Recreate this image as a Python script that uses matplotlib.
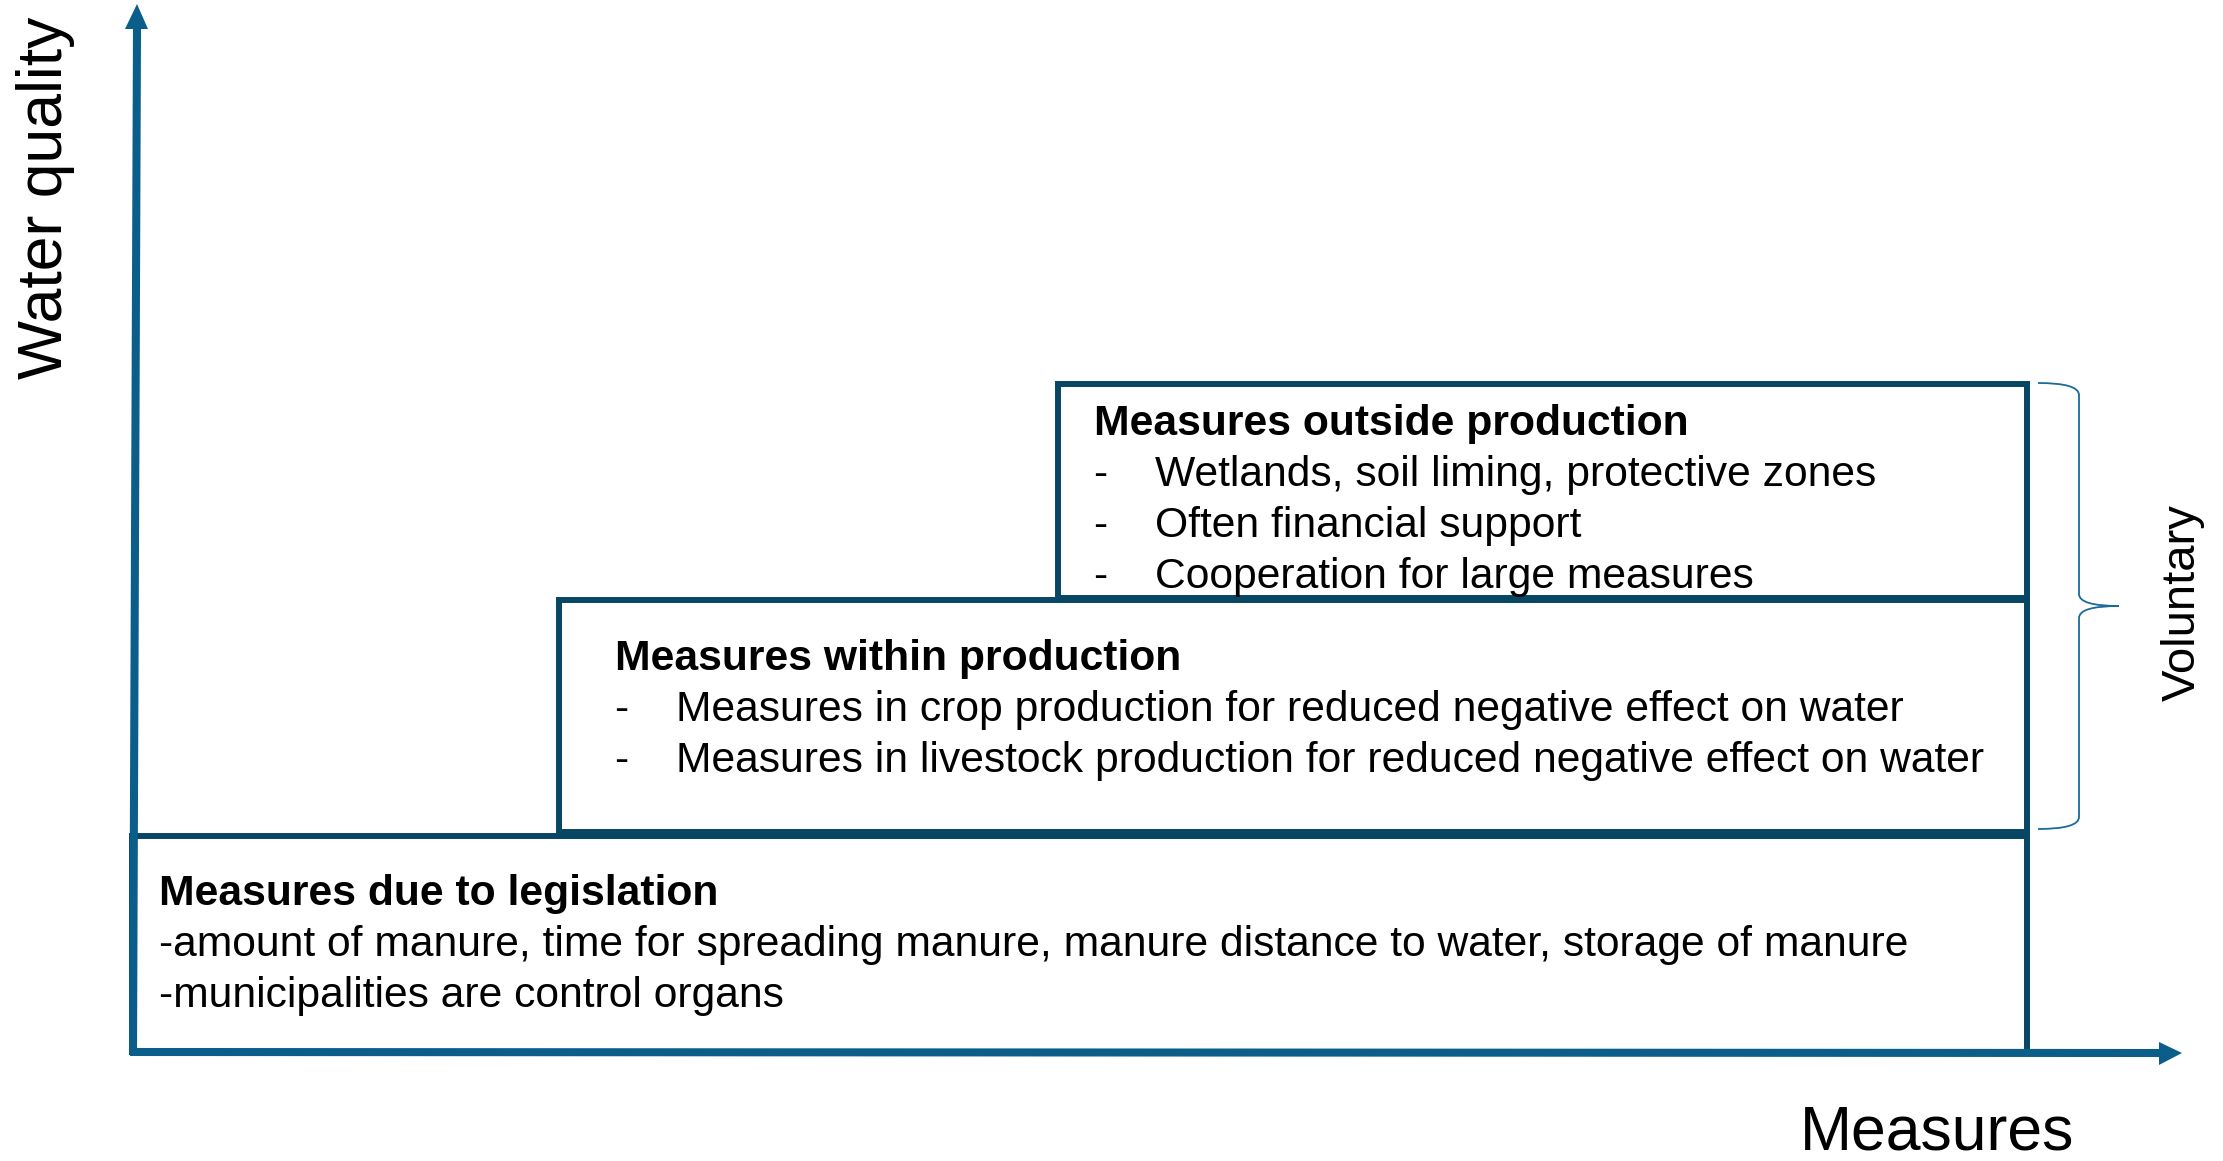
import matplotlib.pyplot as plt
from matplotlib.patches import Rectangle, Polygon, PathPatch
from matplotlib.path import Path

plt.rcParams['font.family'] = ['Liberation Sans', 'DejaVu Sans']

W, H = 2223, 1161
AXIS_COLOR = '#0B5E8A'
BOX_COLOR = '#084764'
BRACE_COLOR = '#1A6A9A'

# steps of the staircase: (left, top, right, bottom) in pixel units
box_names = ['legislation', 'within', 'outside']
box_left = [132, 559, 1058]
box_top = [836, 600, 384]
box_right = [2027, 2027, 2027]
box_bottom = [1052, 832, 598]

titles = ['Measures due to legislation',
          'Measures within production',
          'Measures outside production']
bullets = [
    ['-amount of manure, time for spreading manure, manure distance to water, storage of manure',
     '-municipalities are control organs'],
    ['Measures in crop production for reduced negative effect on water',
     'Measures in livestock production for reduced negative effect on water'],
    ['Wetlands, soil liming, protective zones',
     'Often financial support',
     'Cooperation for large measures'],
]
title_x = [159, 615, 1094]
title_y = [894, 659, 424]
dash_x = [None, 614, 1093]
text_x = [159, 676, 1155]
line_step = 51
FS = 30.68

fig = plt.figure(figsize=(W / 100, H / 100), dpi=100)
ax = fig.add_axes([0, 0, 1, 1])
ax.set_xlim(0, W)
ax.set_ylim(H, 0)
ax.axis('off')

# boxes
for i in range(len(box_names)):
    r = Rectangle((box_left[i], box_top[i]), box_right[i] - box_left[i],
                  box_bottom[i] - box_top[i], facecolor='white',
                  edgecolor=BOX_COLOR, linewidth=4.3, zorder=2)
    ax.add_patch(r)

# axes arrows
ax.plot([133, 137], [1053, 28], color=AXIS_COLOR, lw=5.8, solid_capstyle='butt', zorder=3)
ax.add_patch(Polygon([[125, 29], [148, 29], [137, 4]], closed=True,
                     facecolor=AXIS_COLOR, edgecolor='none', zorder=3))
ax.plot([130, 2160], [1052, 1053], color=AXIS_COLOR, lw=5.8, solid_capstyle='butt', zorder=3)
ax.add_patch(Polygon([[2159, 1042], [2159, 1065], [2182, 1053]], closed=True,
                     facecolor=AXIS_COLOR, edgecolor='none', zorder=3))

# text in boxes
for i in range(len(titles)):
    ax.text(title_x[i], title_y[i], titles[i], fontsize=FS, fontweight='bold',
            ha='left', va='center', zorder=4)
    for j, b in enumerate(bullets[i]):
        y = title_y[i] + (j + 1) * line_step
        if dash_x[i] is not None:
            ax.text(dash_x[i], y, '-', fontsize=FS, ha='left', va='center', zorder=4)
        ax.text(text_x[i], y, b, fontsize=FS, ha='left', va='center', zorder=4)

# axis labels
ax.text(46, 198, 'Water quality', fontsize=45, rotation=90, ha='center', va='center')
ax.text(2074, 1149, 'Measures', fontsize=45, ha='right', va='baseline')
ax.text(2183, 603, 'Voluntary', fontsize=34, rotation=90, ha='center', va='center')

# curly brace
bx0, bx1, btip = 2038, 2079, 2119
by0, bmid, by1 = 383, 606, 829
verts = [(bx0, by0), (bx1, by0), (bx1, by0 + 12),
         (bx1, bmid - 12),
         (bx1, bmid), (btip, bmid),
         (bx1, bmid), (bx1, bmid + 12),
         (bx1, by1 - 12),
         (bx1, by1), (bx0, by1)]
codes = [Path.MOVETO, Path.CURVE3, Path.CURVE3,
         Path.LINETO,
         Path.CURVE3, Path.CURVE3,
         Path.CURVE3, Path.CURVE3,
         Path.LINETO,
         Path.CURVE3, Path.CURVE3]
ax.add_patch(PathPatch(Path(verts, codes), facecolor='none', edgecolor=BRACE_COLOR, lw=1.3))

fig.savefig('out.png', dpi=100, facecolor='white')
